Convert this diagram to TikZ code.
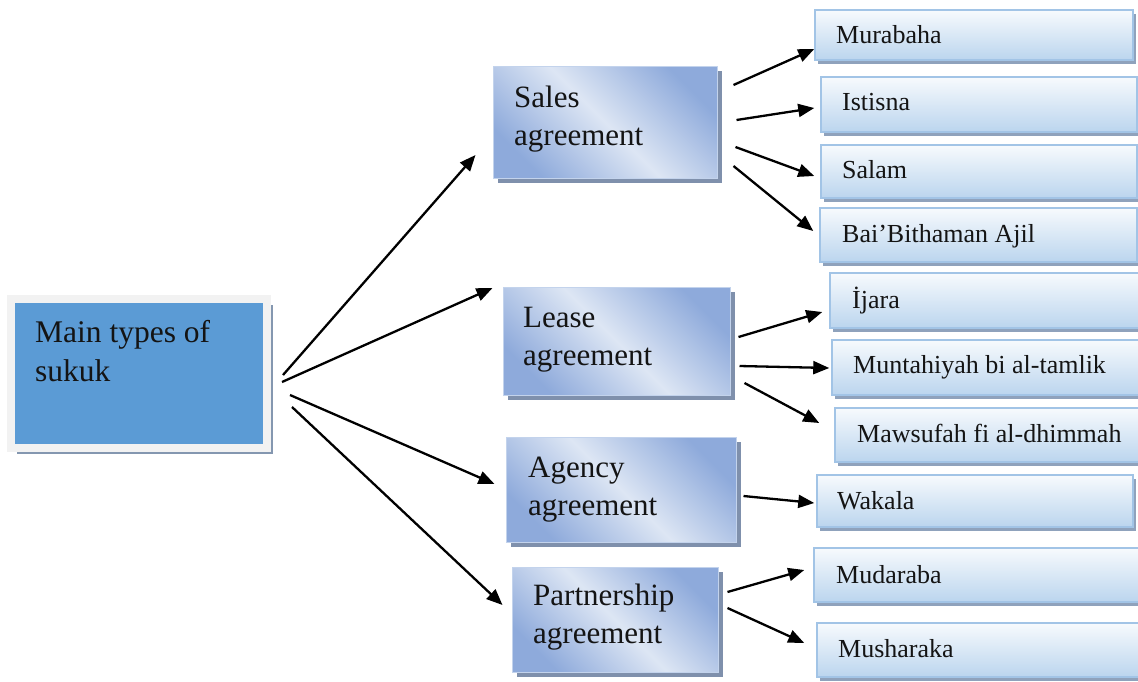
\documentclass[tikz,border=0pt]{standalone}
\usepackage{fontspec}
\setmainfont{Liberation Serif}
\usetikzlibrary{arrows.meta,calc,fit,shadows}
\definecolor{mainblue}{HTML}{5B9BD5}
\definecolor{mainframe}{HTML}{F2F2F2}
\definecolor{mainshadow}{HTML}{8497B0}
\definecolor{middark}{HTML}{8EAADB}
\definecolor{midlight}{HTML}{DDE6F4}
\definecolor{midborder}{HTML}{C3D3EC}
\definecolor{midshadow}{HTML}{7F90AC}
\definecolor{leaftop}{HTML}{F7FAFD}
\definecolor{leafbottom}{HTML}{BBD5EE}
\definecolor{leafborder}{HTML}{A2C4E6}
\definecolor{leafshadow}{HTML}{8FA2BC}
\definecolor{inktext}{HTML}{141414}
\newcommand{\twolines}[2]{\begin{tabular}[t]{@{}l@{}}#1\\#2\end{tabular}}
\begin{document}
\begin{tikzpicture}[x=1pt,y=-1pt,
  mainbox/.style={draw=mainframe, line width=8pt, fill=mainblue, inner sep=0pt,
    drop shadow={shadow xshift=6pt, shadow yshift=-6pt, fill=mainshadow, opacity=1}},
  midbox/.style={draw=midborder, line width=1pt, inner sep=0pt,
    top color=middark, bottom color=middark, middle color=midlight, shading angle=-45,
    drop shadow={shadow xshift=5pt, shadow yshift=-5pt, fill=midshadow, opacity=1}},
  leafbox/.style={draw=leafborder, line width=1.5pt, inner sep=0pt,
    top color=leaftop, bottom color=leafbottom,
    drop shadow={shadow xshift=3pt, shadow yshift=-4pt, fill=leafshadow, opacity=1}},
  bigtext/.style={anchor=base west, inner sep=0pt, text=inktext, font=\fontsize{31.5}{39}\selectfont},
  midtext/.style={anchor=base west, inner sep=0pt, text=inktext, font=\fontsize{31}{38.5}\selectfont},
  leaftext/.style={anchor=base west, inner sep=0pt, text=inktext, font=\fontsize{26}{31}\selectfont},
  arr/.style={line width=2.3pt, -{Triangle[length=16pt,width=13pt]}}
]
\useasboundingbox (0,0) rectangle (1138,681);
\clip (0,0) rectangle (1138,681);
\fill[white] (0,0) rectangle (1138,681);

% main box
\node[mainbox, fit={(11,299)(267,448)}] (main) {};
\node[bigtext] (maint) at (35,342) {\twolines{Main types of}{sukuk}};

% middle boxes
\node[midbox, fit={(493,66)(717,178)}] (sales) {};
\node[midtext] (salest) at (514,107) {\twolines{Sales}{agreement}};
\node[midbox, fit={(503,287)(730,395)}] (lease) {};
\node[midtext] (leaset) at (523,327) {\twolines{Lease}{agreement}};
\node[midbox, fit={(506,437)(736,542)}] (agency) {};
\node[midtext] (agencyt) at (528,477) {\twolines{Agency}{agreement}};
\node[midbox, fit={(512,567)(718,672)}] (partner) {};
\node[midtext] (partnert) at (533,605) {\twolines{Partnership}{agreement}};

% leaf boxes
\node[leafbox, fit={(815,10)(1133,60)}] (murabaha) {};
\node[leaftext] (murabahat) at (836,43) {Murabaha};
\node[leafbox, fit={(821,77)(1137,132)}] (istisna) {};
\node[leaftext] (istisnat) at (842,110) {Istisna};
\node[leafbox, fit={(821,145)(1137,198)}] (salam) {};
\node[leaftext] (salamt) at (842,178) {Salam};
\node[leafbox, fit={(820,208)(1137,262)}] (bai) {};
\node[leaftext] (bait) at (842,242) {Bai’Bithaman Ajil};
\node[leafbox, fit={(830,273)(1144,328)}] (ijara) {};
\node[leaftext] (ijarat) at (852,308) {İjara};
\node[leafbox, fit={(832,340)(1144,395)}] (munt) {};
\node[leaftext] (muntt) at (853,373) {Muntahiyah bi al-tamlik};
\node[leafbox, fit={(835,408)(1144,462)}] (maws) {};
\node[leaftext] (mawst) at (857,442) {Mawsufah fi al-dhimmah};
\node[leafbox, fit={(817,475)(1133,527)}] (wakala) {};
\node[leaftext] (wakalat) at (837,509) {Wakala};
\node[leafbox, fit={(814,548)(1144,602)}] (mudaraba) {};
\node[leaftext] (mudarabat) at (836,583) {Mudaraba};
\node[leafbox, fit={(817,623)(1144,677)}] (musharaka) {};
\node[leaftext] (musharakat) at (838,657) {Musharaka};

% connectors from main
\draw[arr] ($(main.east)+(12,1.5)$) -- ($(sales.west)+(-17,33)$);
\draw[arr] ($(main.east)+(11,8.5)$) -- ($(lease.west)+(-10,-53)$);
\draw[arr] ($(main.east)+(19,21.5)$) -- ($(agency.west)+(-11,-5.5)$);
\draw[arr] ($(main.east)+(21,33.5)$) -- ($(partner.west)+(-9,-14.5)$);

% sales
\draw[arr] ($(sales.east)+(16,-37)$) -- ($(murabaha.west)+(0,14)$);
\draw[arr] ($(sales.east)+(19,-2)$) -- ($(istisna.west)+(-6,3.5)$);
\draw[arr] ($(sales.east)+(18,25)$) -- ($(salam.west)+(-6,4.5)$);
\draw[arr] ($(sales.east)+(16,44)$) -- ($(bai.west)+(-6,-4)$);

% lease
\draw[arr] ($(lease.east)+(8,-4)$) -- ($(ijara.west)+(-7,11.5)$);
\draw[arr] ($(lease.east)+(9,25)$) -- ($(munt.west)+(-2,0.5)$);
\draw[arr] ($(lease.east)+(14,42)$) -- ($(maws.west)+(-15,-12)$);

% agency
\draw[arr] ($(agency.east)+(7,6.5)$) -- ($(wakala.west)+(-2,2)$);

% partnership
\draw[arr] ($(partner.east)+(9,-27.5)$) -- ($(mudaraba.west)+(-9,-5)$);
\draw[arr] ($(partner.east)+(9,-11.5)$) -- ($(musharaka.west)+(-12,-7)$);
\end{tikzpicture}
\end{document}
